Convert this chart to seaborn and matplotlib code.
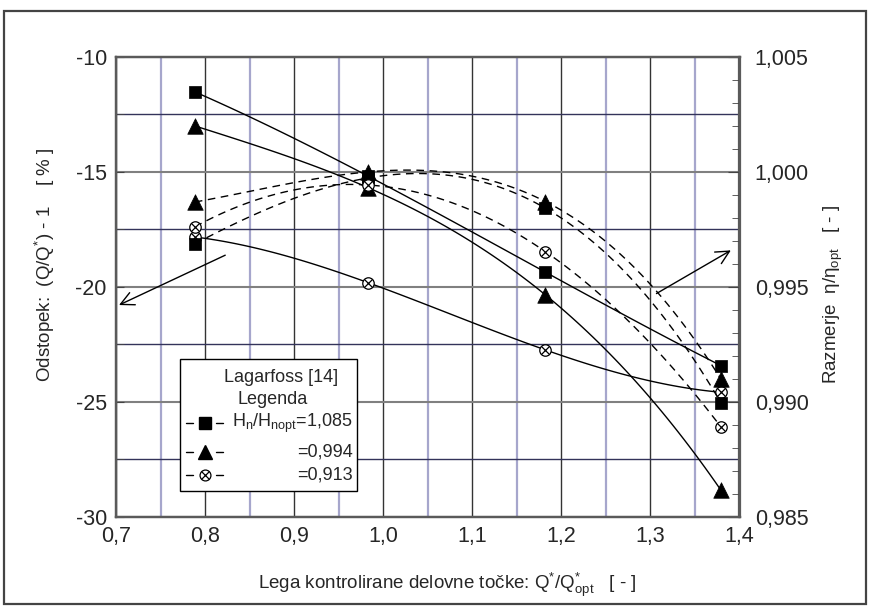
import matplotlib
matplotlib.use("Agg")
import matplotlib.pyplot as plt
import seaborn as sns
import pandas as pd
from matplotlib.patches import Rectangle
from matplotlib.lines import Line2D
from matplotlib.ticker import MultipleLocator

# ---------------- data ----------------
flow_ratio = [0.788, 0.983, 1.182, 1.379]          # Q*/Q*opt
dev_1085 = [-11.53, -15.20, -19.37, -23.43]        # (Q/Q*)-1 [%]
dev_0994 = [-13.01, -15.70, -20.36, -28.84]
dev_0913 = [-17.84, -19.83, -22.75, -24.59]
eff_1085 = [0.99686, 0.99973, 0.99841, 0.98996]   # eta/eta_opt
eff_0994 = [0.99868, 0.99999, 0.99870, 0.99099]
eff_0913 = [0.99760, 0.99942, 0.99652, 0.98891]
legend_values = ["=1,085", "=0,994", "=0,913"]

x_ticks = [0.7, 0.8, 0.9, 1.0, 1.1, 1.2, 1.3, 1.4]
x_tick_labels = ["0,7", "0,8", "0,9", "1,0", "1,1", "1,2", "1,3", "1,4"]
x_minor = [0.75, 0.85, 0.95, 1.05, 1.15, 1.25, 1.35]
left_ticks = [-30, -25, -20, -15, -10]
left_tick_labels = ["-30", "-25", "-20", "-15", "-10"]
left_minor = [-27.5, -22.5, -17.5, -12.5]
right_ticks = [0.985, 0.990, 0.995, 1.000, 1.005]
right_tick_labels = ["0,985", "0,990", "0,995", "1,000", "1,005"]

sns.set_style("white")
plt.rcParams["font.family"] = ["Liberation Sans", "DejaVu Sans"]
plt.rcParams["mathtext.fontset"] = "custom"
plt.rcParams["mathtext.rm"] = "Liberation Sans"
plt.rcParams["mathtext.it"] = "Liberation Sans:italic"
plt.rcParams["mathtext.bf"] = "Liberation Sans:bold"

fig = plt.figure(figsize=(8.7, 6.08), dpi=100)
ax = fig.add_axes([0.1339, 0.1502, 0.7161, 0.7566])
ax2 = ax.twinx()

dev_series = [dev_1085, dev_0994, dev_0913]
eff_series = [eff_1085, eff_0994, eff_0913]
markers = ["s", "^", "o"]
sizes = [75, 125, 68]

dash = (0, (5.5, 4))
for dev, eff in zip(dev_series, eff_series):
    d1 = pd.DataFrame({"x": flow_ratio, "y": dev})
    d2 = pd.DataFrame({"x": flow_ratio, "y": eff})
    sns.regplot(data=d1, x="x", y="y", order=3, ci=None, scatter=False, ax=ax,
                line_kws=dict(color="black", lw=1.0, zorder=2))
    sns.regplot(data=d2, x="x", y="y", order=3, ci=None, scatter=False, ax=ax2,
                line_kws=dict(color="black", lw=1.0, ls=dash, zorder=2))

for dev, eff, m, s in zip(dev_series, eff_series, markers, sizes):
    for a, vals in ((ax, dev), (ax2, eff)):
        df = pd.DataFrame({"x": flow_ratio, "y": vals})
        if m == "o":
            sns.scatterplot(data=df, x="x", y="y", marker="o", s=s, color="white",
                            edgecolor="black", linewidth=0.9, ax=a, zorder=4)
            sns.scatterplot(data=df, x="x", y="y", marker="x", s=s * 0.5, color="black",
                            linewidth=0.9, ax=a, zorder=5)
        else:
            sns.scatterplot(data=df, x="x", y="y", marker=m, s=s, color="black",
                            edgecolor="black", linewidth=0.5, ax=a, zorder=4)

# ---------------- axes ----------------
ax.set_xlim(0.7, 1.4)
ax.set_ylim(-30, -10)
ax2.set_ylim(0.985, 1.005)

ax.set_xticks(x_ticks, labels=x_tick_labels)
ax.set_xticks(x_minor, minor=True)
ax.set_yticks(left_ticks, labels=left_tick_labels)
ax.set_yticks(left_minor, minor=True)
ax2.set_yticks(right_ticks, labels=right_tick_labels)
ax2.yaxis.set_minor_locator(MultipleLocator(0.001))

ax.grid(which="major", axis="x", color="#333333", lw=1.0)
ax.grid(which="minor", axis="x", color="#a6a6cc", lw=1.6)
ax.grid(which="major", axis="y", color="#808080", lw=1.5)
ax.grid(which="minor", axis="y", color="#33335a", lw=1.0)
ax.set_axisbelow(True)

ax.tick_params(axis="both", which="both", direction="in", labelsize=15.5,
               color="#444444", top=False, right=False)
ax.tick_params(axis="y", which="major", length=6, pad=7)
ax.tick_params(axis="y", which="minor", length=6)
ax.tick_params(axis="x", which="major", length=6, pad=7)
ax.tick_params(axis="x", which="minor", length=4)
ax2.tick_params(axis="y", which="major", direction="in", length=9, labelsize=15.5,
                pad=11, color="#444444")
ax2.tick_params(axis="y", which="minor", direction="in", length=6, color="#444444")

for a in (ax, ax2):
    for sp in a.spines.values():
        sp.set_color("#5a5a5a")
        sp.set_linewidth(1.6)

ax.set_xlabel("Lega kontrolirane delovne točke: Q$^{\\mathregular{*}}$/Q$^{\\mathregular{*}}_{\\mathregular{opt}}$   [ - ]",
              fontsize=13.5)
ax.xaxis.set_label_coords(0.531, -0.118)
ax.xaxis.label.set_va("top")
ax.set_ylabel("Odstopek:  (Q/Q$^{\\mathregular{*}}$) - 1    [ % ]", fontsize=13.5)
ax.yaxis.set_label_coords(-0.115, 0.547)
ax.yaxis.label.set_va("center")
ax2.set_ylabel("Razmerje  η/η$_{\\mathregular{opt}}$   [ - ]", fontsize=13.5, rotation=90)
ax2.yaxis.set_label_coords(1.150, 0.482)
ax2.yaxis.label.set_va("center")

# ---------------- arrows ----------------
ax.annotate("", xy=(0.700, -20.85), xytext=(0.825, -18.58),
            arrowprops=dict(arrowstyle="->", lw=1.0, color="black", mutation_scale=24))
ax.annotate("", xy=(1.393, -18.36), xytext=(1.304, -20.36),
            arrowprops=dict(arrowstyle="->", lw=1.0, color="black", mutation_scale=24))

# ---------------- legend box ----------------
T = ax.transAxes
ax.add_patch(Rectangle((0.1019, 0.0559), 0.2841, 0.2869, transform=T, fill=True,
                       facecolor="white", edgecolor="black", lw=1.0, zorder=10))
ax.text(0.264, 0.3015, "Lagarfoss [14]", transform=T, ha="center", va="center",
        fontsize=13, zorder=11)
ax.text(0.251, 0.2537, "Legenda", transform=T, ha="center", va="center",
        fontsize=13, zorder=11)
rows_y = [0.2037, 0.1407, 0.0907]
label_texts = ["H$_{\\mathregular{n}}$/H$_{\\mathregular{nopt}}$" + legend_values[0],
               legend_values[1], legend_values[2]]
for y, lab, m, s in zip(rows_y, label_texts, markers, sizes):
    for x0, x1 in ((0.1116, 0.1228), (0.1597, 0.1709)):
        ax.add_line(Line2D([x0, x1], [y, y], transform=T, color="black", lw=1.0, zorder=11))
    ms = (s ** 0.5) * 0.95
    if m == "o":
        ax.add_line(Line2D([0.1415], [y], transform=T, marker="o", ms=ms, mfc="white",
                           mec="black", mew=0.9, zorder=12))
        ax.add_line(Line2D([0.1415], [y], transform=T, marker="x", ms=ms * 0.7,
                           mec="black", mew=0.9, zorder=13))
    else:
        ax.add_line(Line2D([0.1415], [y], transform=T, marker=m, ms=ms, mfc="black",
                           mec="black", zorder=12))
    ax.text(0.3796, y, lab, transform=T, ha="right", va="center", fontsize=13, zorder=11)

fig.add_artist(Rectangle((0.005, 0.006), 0.99, 0.976, transform=fig.transFigure,
                         fill=False, edgecolor="#444444", lw=1.6))

fig.savefig("out.png", dpi=100)
